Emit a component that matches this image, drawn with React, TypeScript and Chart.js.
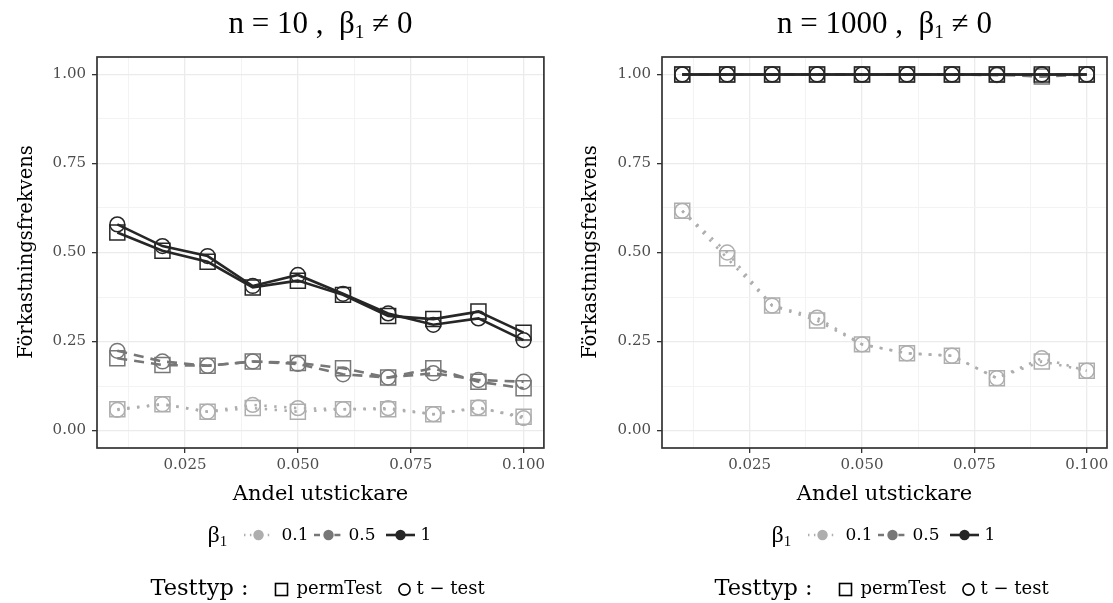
import React, { useEffect, useRef } from 'react';
import { Chart, registerables } from 'chart.js';
Chart.register(...registerables);

// ---------- data ----------
const andelUtstickare = [0.01, 0.02, 0.03, 0.04, 0.05, 0.06, 0.07, 0.08, 0.09, 0.1];

const yTicks = [0, 0.125, 0.25, 0.375, 0.5, 0.625, 0.75, 0.875, 1];
const yMajor = [0, 0.25, 0.5, 0.75, 1];
const xTicks = [0.0125, 0.025, 0.0375, 0.05, 0.0625, 0.075, 0.0875, 0.1];
const xMajor = [0.025, 0.05, 0.075, 0.1];

const betaLevels = ['0.1', '0.5', '1'];
const testTypes = ['permTest', 't \u2212 test'];

// n = 10
const n10_b1_perm = [0.556, 0.505, 0.474, 0.402, 0.421, 0.381, 0.322, 0.313, 0.334, 0.275];
const n10_b1_t = [0.579, 0.518, 0.49, 0.406, 0.437, 0.384, 0.329, 0.297, 0.315, 0.254];
const n10_b05_perm = [0.203, 0.184, 0.182, 0.194, 0.19, 0.175, 0.149, 0.175, 0.137, 0.119];
const n10_b05_t = [0.224, 0.194, 0.182, 0.194, 0.187, 0.158, 0.149, 0.161, 0.142, 0.137];
const n10_b01_perm = [0.06, 0.074, 0.053, 0.063, 0.053, 0.06, 0.06, 0.046, 0.063, 0.039];
const n10_b01_t = [0.058, 0.074, 0.053, 0.072, 0.063, 0.06, 0.063, 0.046, 0.065, 0.035];

// n = 1000
const n1000_b1_perm = [1, 1, 1, 1, 1, 1, 1, 1, 1, 1];
const n1000_b1_t = [1, 1, 1, 1, 1, 1, 1, 1, 1, 1];
const n1000_b05_perm = [1, 1, 1, 1, 1, 1, 1, 1, 0.994, 1];
const n1000_b05_t = [1, 1, 1, 1, 1, 1, 1, 0.998, 1, 1];
const n1000_b01_perm = [0.617, 0.484, 0.351, 0.309, 0.242, 0.217, 0.21, 0.147, 0.194, 0.168];
const n1000_b01_t = [0.617, 0.5, 0.351, 0.317, 0.242, 0.217, 0.21, 0.147, 0.203, 0.168];

// ---------- styles ----------
const betaColor: Record<string, string> = { '0.1': '#AEAEAE', '0.5': '#777777', '1': '#262626' };
const betaDash: Record<string, number[]> = { '0.1': [2.4, 7.5], '0.5': [10, 7], '1': [] };
const betaOrder: Record<string, number> = { '0.1': 3, '0.5': 2, '1': 1 };

const SERIF = '"DejaVu Serif", serif';
const TIMES = '"Liberation Serif", serif';

type Series = { beta: string; test: string; values: number[] };

const n10Series: Series[] = [
  { beta: '1', test: 'permTest', values: n10_b1_perm },
  { beta: '1', test: 't-test', values: n10_b1_t },
  { beta: '0.5', test: 'permTest', values: n10_b05_perm },
  { beta: '0.5', test: 't-test', values: n10_b05_t },
  { beta: '0.1', test: 'permTest', values: n10_b01_perm },
  { beta: '0.1', test: 't-test', values: n10_b01_t },
];
const n1000Series: Series[] = [
  { beta: '1', test: 'permTest', values: n1000_b1_perm },
  { beta: '1', test: 't-test', values: n1000_b1_t },
  { beta: '0.5', test: 'permTest', values: n1000_b05_perm },
  { beta: '0.5', test: 't-test', values: n1000_b05_t },
  { beta: '0.1', test: 'permTest', values: n1000_b01_perm },
  { beta: '0.1', test: 't-test', values: n1000_b01_t },
];

const borderPlugin = {
  id: 'panelBorder',
  afterDraw(chart: any) {
    const { ctx, chartArea: a } = chart;
    ctx.save();
    ctx.strokeStyle = '#333333';
    ctx.lineWidth = 1.7;
    ctx.strokeRect(a.left, a.top, a.right - a.left, a.bottom - a.top);
    ctx.restore();
  },
};

function Panel(props: { left: number; width: number; areaLeft: number; areaRight: number; series: Series[] }) {
  const ref = useRef<HTMLCanvasElement>(null);
  useEffect(() => {
    const canvas = ref.current!;
    const datasets = props.series.map((s) => ({
      label: s.beta + ' ' + s.test,
      data: andelUtstickare.map((x, i) => ({ x, y: s.values[i] })),
      borderColor: betaColor[s.beta],
      borderWidth: 2.6,
      borderDash: betaDash[s.beta],
      pointStyle: s.test === 'permTest' ? 'rect' : 'circle',
      pointRadius: s.test === 'permTest' ? 10.6 : 7.4,
      pointBorderColor: betaColor[s.beta],
      pointBackgroundColor: 'rgba(0,0,0,0)',
      pointBorderWidth: 1.5,
      tension: 0,
      fill: false,
      order: betaOrder[s.beta],
    }));
    const isMajor = (ctx: any) => {
      const v = ctx.tick ? ctx.tick.value : 0;
      return ctx.scale.axis === 'x' ? xMajor.includes(v) : yMajor.includes(v);
    };
    const gridColor = (ctx: any) => (isMajor(ctx) ? '#EBEBEB' : '#F3F3F3');
    const gridWidth = (ctx: any) => (isMajor(ctx) ? 1.3 : 1.0);
    const tickColor = (ctx: any) => (isMajor(ctx) ? '#333333' : 'rgba(0,0,0,0)');
    const chart = new Chart(canvas, {
      type: 'line',
      data: { datasets: datasets as any },
      plugins: [borderPlugin],
      options: {
        animation: false,
        responsive: false,
        maintainAspectRatio: false,
        layout: { padding: { top: 57, left: 0, right: props.width - props.areaRight, bottom: 0 } },
        plugins: { legend: { display: false }, tooltip: { enabled: false }, title: { display: false } },
        scales: {
          x: {
            type: 'linear',
            min: 0.0055,
            max: 0.1045,
            afterBuildTicks: (s: any) => { s.ticks = xTicks.map((v) => ({ value: v })); },
            afterFit: (s: any) => { s.height = 155; s.paddingLeft = 0; s.paddingRight = 0; },
            border: { display: false },
            grid: { color: gridColor, lineWidth: gridWidth, tickColor, tickLength: 5, tickWidth: 1.3 },
            ticks: {
              autoSkip: false,
              maxRotation: 0,
              padding: 3,
              color: '#4D4D4D',
              font: { family: SERIF, size: 15 },
              callback: (v: any) => (xMajor.includes(v) ? Number(v).toFixed(3) : ''),
            },
          },
          y: {
            type: 'linear',
            min: -0.049,
            max: 1.049,
            afterBuildTicks: (s: any) => { s.ticks = yTicks.map((v) => ({ value: v })); },
            afterFit: (s: any) => { s.width = props.areaLeft; s.paddingTop = 0; s.paddingBottom = 0; },
            border: { display: false },
            grid: { color: gridColor, lineWidth: gridWidth, tickColor, tickLength: 5, tickWidth: 1.3 },
            ticks: {
              autoSkip: false,
              padding: 6,
              color: '#4D4D4D',
              font: { family: SERIF, size: 15 },
              callback: (v: any) => (yMajor.includes(v) ? Number(v).toFixed(2) : ''),
            },
          },
        },
      } as any,
    });
    return () => chart.destroy();
  }, []);
  return (
    <canvas
      ref={ref}
      width={props.width}
      height={603}
      style={{ position: 'absolute', left: props.left, top: 0, width: props.width, height: 603 }}
    />
  );
}

function Sub(props: { children: any }) {
  return <span style={{ fontSize: '0.62em', position: 'relative', top: '0.28em' }}>{props.children}</span>;
}

function LineKey(props: { beta: string }) {
  const c = betaColor[props.beta];
  return (
    <svg width={29} height={14} style={{ position: 'absolute', top: -7, left: 0 }}>
      <line x1={0} y1={7} x2={29} y2={7} stroke={c} strokeWidth={2.6}
        strokeDasharray={betaDash[props.beta].length ? betaDash[props.beta].map((d) => d * 0.6).join(' ') : undefined} />
      <circle cx={14.5} cy={7} r={5.2} fill={c} />
    </svg>
  );
}

function PanelOverlay(props: { cx: number; title: string }) {
  const cx = props.cx;
  const abs = (x: number, y: number, extra: any = {}) => ({ position: 'absolute' as const, left: x, top: y, whiteSpace: 'nowrap' as const, ...extra });
  const keyX = [cx - 77, cx - 7, cx + 65];
  const labX = [cx - 39, cx + 28, cx + 100];
  return (
    <>
      <div style={abs(cx - 250, 4, { width: 500, textAlign: 'center', fontFamily: TIMES, fontSize: 31, lineHeight: '38px', color: '#000' })}>
        {props.title}
        {'  \u00a0'}β<Sub>1</Sub> ≠ 0
      </div>
      <div style={abs(cx - 150, 480, { width: 300, textAlign: 'center', fontFamily: SERIF, fontSize: 21, lineHeight: '26px', color: '#000' })}>
        Andel utstickare
      </div>
      {/* beta legend */}
      <div style={abs(cx - 113, 520, { fontFamily: TIMES, fontSize: 24, lineHeight: '28px' })}>
        β<Sub>1</Sub>
      </div>
      {betaLevels.map((b, i) => (
        <React.Fragment key={b}>
          <div style={abs(keyX[i], 535)}><LineKey beta={b} /></div>
          <div style={abs(labX[i], 523, { fontFamily: SERIF, fontSize: 17, lineHeight: '22px' })}>{b}</div>
        </React.Fragment>
      ))}
      {/* test type legend */}
      <div style={abs(cx - 170, 573, { fontFamily: SERIF, fontSize: 22.5, lineHeight: '28px' })}>Testtyp :</div>
      <svg width={16} height={16} style={abs(cx - 47, 582)}>
        <rect x={1.5} y={1.5} width={12} height={12} fill="none" stroke="#000" strokeWidth={1.6} />
      </svg>
      <div style={abs(cx - 24, 576, { fontFamily: SERIF, fontSize: 18, lineHeight: '24px' })}>{testTypes[0]}</div>
      <svg width={16} height={16} style={abs(cx + 76, 582)}>
        <circle cx={7.5} cy={7.5} r={5.6} fill="none" stroke="#000" strokeWidth={1.6} />
      </svg>
      <div style={abs(cx + 96, 576, { fontFamily: SERIF, fontSize: 18, lineHeight: '24px' })}>{testTypes[1]}</div>
    </>
  );
}

function YTitle(props: { x: number }) {
  return (
    <div style={{ position: 'absolute', left: props.x - 150, top: 252 - 13, width: 300, height: 26, textAlign: 'center',
      transform: 'rotate(-90deg)', fontFamily: SERIF, fontSize: 19.5, lineHeight: '26px', whiteSpace: 'nowrap' }}>
      Förkastningsfrekvens
    </div>
  );
}

export default function App() {
  return (
    <div style={{ position: 'fixed', left: 0, top: 0, width: 1113, height: 603, background: '#fff', overflow: 'hidden' }}>
      <Panel left={0} width={556} areaLeft={97} areaRight={544} series={n10Series} />
      <Panel left={556} width={580} areaLeft={106} areaRight={551} series={n1000Series} />
      <YTitle x={26} />
      <YTitle x={590} />
      <PanelOverlay cx={320.5} title={'n = 10 ,'} />
      <PanelOverlay cx={884.5} title={'n = 1000 ,'} />
    </div>
  );
}
